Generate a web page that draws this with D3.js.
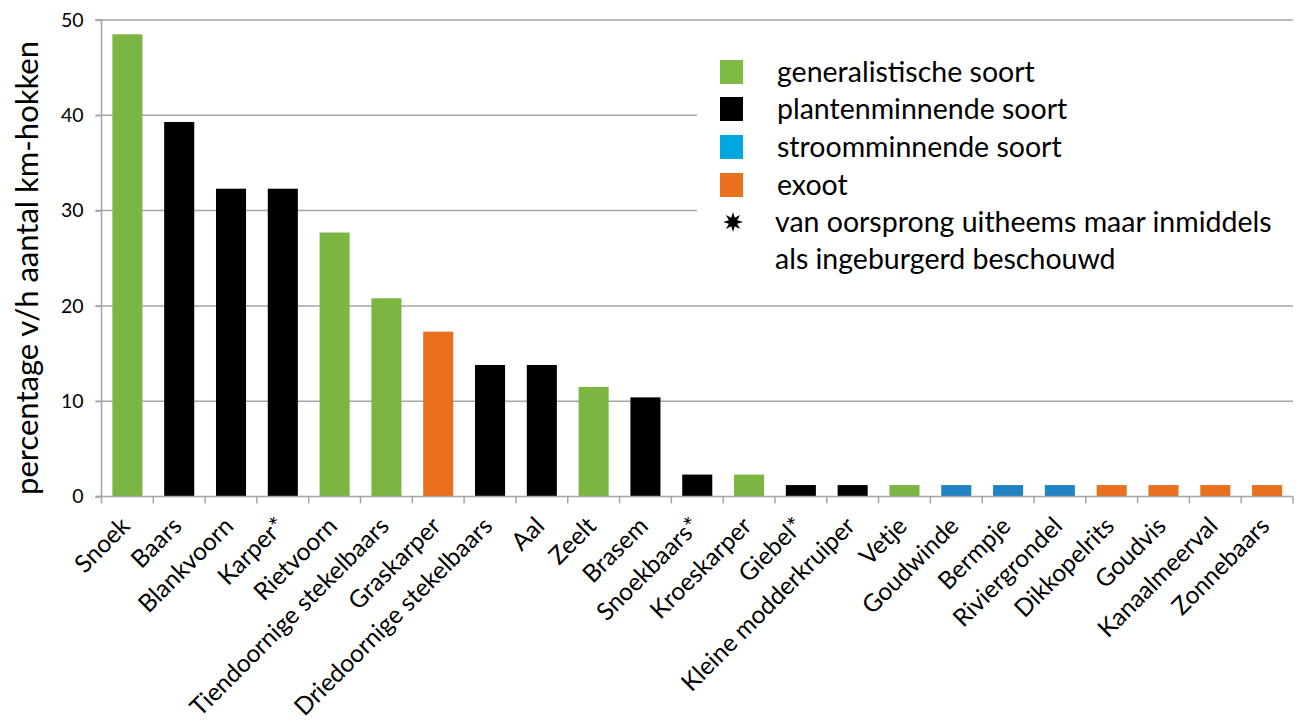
<!DOCTYPE html>
<html><head><meta charset="utf-8">
<script src="https://cdn.jsdelivr.net/npm/d3@7"></script>
<style>body{margin:0;background:#fff}svg{display:block}</style>
</head><body>
<svg id="chart" width="1301" height="726"></svg>
<script>
const categories = ["Snoek","Baars","Blankvoorn","Karper*","Rietvoorn","Tiendoornige stekelbaars","Graskarper","Driedoornige stekelbaars","Aal","Zeelt","Brasem","Snoekbaars*","Kroeskarper","Giebel*","Kleine modderkruiper","Vetje","Goudwinde","Bermpje","Riviergrondel","Dikkopelrits","Goudvis","Kanaalmeerval","Zonnebaars"];
const values = [48.5,39.3,32.3,32.3,27.7,20.8,17.3,13.8,13.8,11.5,10.4,2.3,2.3,1.2,1.2,1.2,1.2,1.2,1.2,1.2,1.2,1.2,1.2];
const groups = ["gen","plant","plant","plant","gen","gen","exo","plant","plant","gen","plant","plant","gen","plant","plant","gen","stroom","stroom","stroom","exo","exo","exo","exo"];
const yTicks = [0,10,20,30,40,50];
const legendKeys = ["gen","plant","stroom","exo"];
const legendLabels = ["generalistische soort","plantenminnende soort","stroomminnende soort","exoot"];
const starNote = ["van oorsprong uitheems maar inmiddels","als ingeburgerd beschouwd"];
const yTitle = "percentage v/h aantal km-hokken";

const barColor = {gen:"#7cb642", plant:"#000000", stroom:"#1f83c4", exo:"#e8701e"};
const legColor = {gen:"#7dbb44", plant:"#000000", stroom:"#00a6e0", exo:"#ea711d"};
const FONT = "Lato, 'Open Sans', sans-serif";

const svg = d3.select("#chart");
const m = {left:101.5, right:1293, top:20, bottom:496.5};
const x = d3.scaleBand().domain(categories).range([m.left, m.right]).paddingInner(0.42).paddingOuter(0.21);
const y = d3.scaleLinear().domain([0,50]).range([m.bottom, m.top]);

// gridlines
svg.append("g").selectAll("line").data(yTicks.filter(d=>d>0)).join("line")
  .attr("x1", m.left-6).attr("x2", m.right).attr("y1", d=>y(d)).attr("y2", d=>y(d))
  .attr("stroke","#a5a5a5").attr("stroke-width",1.5);

// legend background
svg.append("rect").attr("x",697).attr("y",35).attr("width",m.right-697).attr("height",258).attr("fill","#fff");

// bars
svg.append("g").selectAll("rect").data(categories).join("rect")
  .attr("x", d=>x(d)).attr("width", x.bandwidth())
  .attr("y", (d,i)=>y(values[i])).attr("height", (d,i)=>y(0)-y(values[i]))
  .attr("fill", (d,i)=>barColor[groups[i]]);

// y axis
const yAxis = d3.axisLeft(y).tickValues(yTicks).tickSize(6).tickPadding(12);
const gy = svg.append("g").attr("transform",`translate(${m.left},0)`).call(yAxis);
gy.select(".domain").attr("stroke","#a5a5a5").attr("stroke-width",1.5).attr("d",`M-6,${m.top}H0V${m.bottom}H-6`);
gy.selectAll(".tick line").attr("stroke","#a5a5a5").attr("stroke-width",1.5);
gy.selectAll(".tick text").attr("font-family",FONT).attr("font-size",19.5).attr("fill","#000");

// x axis
const step = x.step();
const gx = svg.append("g");
gx.append("line").attr("x1",m.left-6).attr("x2",m.right).attr("y1",y(0)).attr("y2",y(0)).attr("stroke","#a5a5a5").attr("stroke-width",1.5);
const bounds = categories.map(c=>x(c) - (step - x.bandwidth())/2).concat([m.right]);
gx.selectAll("line.t").data(bounds).join("line").attr("class","t")
  .attr("x1",d=>d).attr("x2",d=>d).attr("y1",y(0)).attr("y2",y(0)+7)
  .attr("stroke","#a5a5a5").attr("stroke-width",1.5);
gx.selectAll("text").data(categories).join("text")
  .attr("transform", d=>`translate(${x(d)+x.bandwidth()/2+4},${y(0)+31}) rotate(-45)`)
  .attr("text-anchor","end")
  .attr("font-family",FONT).attr("font-size",24.5).attr("fill","#000")
  .text(d=>d);

// y title
svg.append("text").attr("transform",`translate(38,268) rotate(-90)`)
  .attr("text-anchor","middle").attr("font-family",FONT).attr("font-size",31).attr("fill","#000").text(yTitle);

// legend
const lg = svg.append("g");
const rowY = [72,109,147,185];
legendKeys.forEach((k,i)=>{
  lg.append("rect").attr("x",720).attr("y",rowY[i]-12).attr("width",23).attr("height",24).attr("fill",legColor[k]);
  lg.append("text").attr("x",777).attr("y",rowY[i]).attr("dy","0.35em").attr("font-family",FONT).attr("font-size",28.5).attr("fill","#000").text(legendLabels[i]);
});
// star
const starPts = [];
for(let i=0;i<16;i++){const r = i%2===0?10:4.5; const a = Math.PI*i/8 - Math.PI/2; starPts.push([733+r*Math.cos(a), 222+r*Math.sin(a)]);}
lg.append("path").attr("d", d3.line()(starPts)+"Z").attr("fill","#000");
starNote.forEach((t,i)=>{
  lg.append("text").attr("x",775).attr("y",222+i*37).attr("dy","0.35em").attr("font-family",FONT).attr("font-size",28.5).attr("fill","#000").text(t);
});
</script>
</body></html>
